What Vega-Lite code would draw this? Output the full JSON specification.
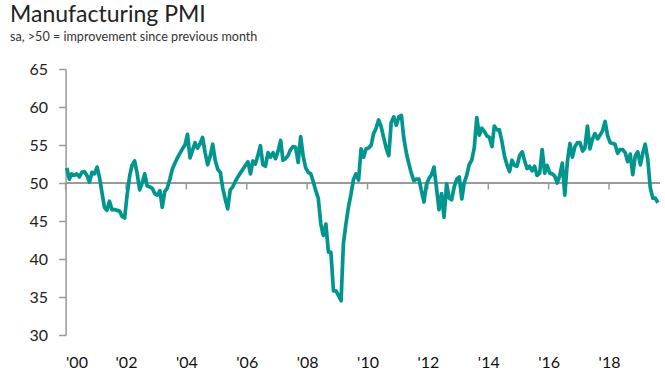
{
  "$schema": "https://vega.github.io/schema/vega-lite/v6.json",
  "width": 594,
  "height": 266,
  "autosize": {"type": "none"},
  "padding": {"left": 65.6, "top": 69, "right": 5.4, "bottom": 53},
  "background": "white",
  "title": {
    "text": "Manufacturing PMI",
    "subtitle": "sa, >50 = improvement since previous month",
    "anchor": "start",
    "frame": "group",
    "dx": -55.6,
    "offset": 17,
    "font": "Lato",
    "fontSize": 23,
    "fontWeight": "normal",
    "color": "#222222",
    "subtitleFont": "Lato",
    "subtitleFontSize": 12.6,
    "subtitleColor": "#333333",
    "subtitlePadding": 4
  },
  "data": {
    "format": {"parse": {"date": "date"}},
    "values": [
      {"date":"2000-01-15","pmi":52.0},{"date":"2000-02-15","pmi":50.5},{"date":"2000-03-15","pmi":51.2},{"date":"2000-04-15","pmi":51.0},{"date":"2000-05-15","pmi":51.2},{"date":"2000-06-15","pmi":50.8},{"date":"2000-07-15","pmi":51.4},{"date":"2000-08-15","pmi":51.5},{"date":"2000-09-15","pmi":51.0},{"date":"2000-10-15","pmi":50.1},{"date":"2000-11-15","pmi":51.4},{"date":"2000-12-15","pmi":51.2},
      {"date":"2001-01-15","pmi":52.1},{"date":"2001-02-15","pmi":50.7},{"date":"2001-03-15","pmi":48.8},{"date":"2001-04-15","pmi":46.8},{"date":"2001-05-15","pmi":46.4},{"date":"2001-06-15","pmi":47.6},{"date":"2001-07-15","pmi":46.5},{"date":"2001-08-15","pmi":46.5},{"date":"2001-09-15","pmi":46.4},{"date":"2001-10-15","pmi":46.3},{"date":"2001-11-15","pmi":45.6},{"date":"2001-12-15","pmi":45.4},
      {"date":"2002-01-15","pmi":48.5},{"date":"2002-02-15","pmi":51.0},{"date":"2002-03-15","pmi":52.3},{"date":"2002-04-15","pmi":52.9},{"date":"2002-05-15","pmi":51.3},{"date":"2002-06-15","pmi":49.1},{"date":"2002-07-15","pmi":50.0},{"date":"2002-08-15","pmi":51.2},{"date":"2002-09-15","pmi":49.6},{"date":"2002-10-15","pmi":49.5},{"date":"2002-11-15","pmi":49.3},{"date":"2002-12-15","pmi":48.6},
      {"date":"2003-01-15","pmi":48.4},{"date":"2003-02-15","pmi":49.0},{"date":"2003-03-15","pmi":46.8},{"date":"2003-04-15","pmi":48.9},{"date":"2003-05-15","pmi":49.3},{"date":"2003-06-15","pmi":50.5},{"date":"2003-07-15","pmi":51.8},{"date":"2003-08-15","pmi":52.6},{"date":"2003-09-15","pmi":53.3},{"date":"2003-10-15","pmi":53.9},{"date":"2003-11-15","pmi":54.5},{"date":"2003-12-15","pmi":55.0},
      {"date":"2004-01-15","pmi":56.4},{"date":"2004-02-15","pmi":53.3},{"date":"2004-03-15","pmi":54.3},{"date":"2004-04-15","pmi":55.3},{"date":"2004-05-15","pmi":54.6},{"date":"2004-06-15","pmi":55.2},{"date":"2004-07-15","pmi":56.0},{"date":"2004-08-15","pmi":54.0},{"date":"2004-09-15","pmi":52.4},{"date":"2004-10-15","pmi":53.5},{"date":"2004-11-15","pmi":55.1},{"date":"2004-12-15","pmi":53.0},
      {"date":"2005-01-15","pmi":51.8},{"date":"2005-02-15","pmi":51.4},{"date":"2005-03-15","pmi":49.4},{"date":"2005-04-15","pmi":47.9},{"date":"2005-05-15","pmi":46.6},{"date":"2005-06-15","pmi":49.1},{"date":"2005-07-15","pmi":49.5},{"date":"2005-08-15","pmi":50.2},{"date":"2005-09-15","pmi":50.8},{"date":"2005-10-15","pmi":51.3},{"date":"2005-11-15","pmi":51.8},{"date":"2005-12-15","pmi":52.3},
      {"date":"2006-01-15","pmi":52.8},{"date":"2006-02-15","pmi":51.2},{"date":"2006-03-15","pmi":52.9},{"date":"2006-04-15","pmi":52.5},{"date":"2006-05-15","pmi":53.6},{"date":"2006-06-15","pmi":54.9},{"date":"2006-07-15","pmi":52.4},{"date":"2006-08-15","pmi":52.2},{"date":"2006-09-15","pmi":54.0},{"date":"2006-10-15","pmi":53.4},{"date":"2006-11-15","pmi":54.0},{"date":"2006-12-15","pmi":53.2},
      {"date":"2007-01-15","pmi":54.2},{"date":"2007-02-15","pmi":55.6},{"date":"2007-03-15","pmi":53.0},{"date":"2007-04-15","pmi":53.2},{"date":"2007-05-15","pmi":53.6},{"date":"2007-06-15","pmi":54.4},{"date":"2007-07-15","pmi":54.8},{"date":"2007-08-15","pmi":54.7},{"date":"2007-09-15","pmi":52.7},{"date":"2007-10-15","pmi":56.1},{"date":"2007-11-15","pmi":53.5},{"date":"2007-12-15","pmi":52.0},
      {"date":"2008-01-15","pmi":51.4},{"date":"2008-02-15","pmi":51.2},{"date":"2008-03-15","pmi":50.2},{"date":"2008-04-15","pmi":49.0},{"date":"2008-05-15","pmi":48.0},{"date":"2008-06-15","pmi":44.6},{"date":"2008-07-15","pmi":43.1},{"date":"2008-08-15","pmi":44.6},{"date":"2008-09-15","pmi":40.9},{"date":"2008-10-15","pmi":40.9},{"date":"2008-11-15","pmi":35.8},{"date":"2008-12-15","pmi":35.8},
      {"date":"2009-01-15","pmi":35.2},{"date":"2009-02-15","pmi":34.5},{"date":"2009-03-15","pmi":42.0},{"date":"2009-04-15","pmi":44.6},{"date":"2009-05-15","pmi":46.8},{"date":"2009-06-15","pmi":48.5},{"date":"2009-07-15","pmi":50.5},{"date":"2009-08-15","pmi":51.2},{"date":"2009-09-15","pmi":50.4},{"date":"2009-10-15","pmi":54.5},{"date":"2009-11-15","pmi":53.4},{"date":"2009-12-15","pmi":54.5},
      {"date":"2010-01-15","pmi":54.6},{"date":"2010-02-15","pmi":55.0},{"date":"2010-03-15","pmi":56.5},{"date":"2010-04-15","pmi":57.2},{"date":"2010-05-15","pmi":58.3},{"date":"2010-06-15","pmi":57.4},{"date":"2010-07-15","pmi":56.0},{"date":"2010-08-15","pmi":54.6},{"date":"2010-09-15","pmi":53.6},{"date":"2010-10-15","pmi":58.0},{"date":"2010-11-15","pmi":58.7},{"date":"2010-12-15","pmi":57.6},
      {"date":"2011-01-15","pmi":58.7},{"date":"2011-02-15","pmi":58.9},{"date":"2011-03-15","pmi":56.0},{"date":"2011-04-15","pmi":54.0},{"date":"2011-05-15","pmi":52.6},{"date":"2011-06-15","pmi":51.3},{"date":"2011-07-15","pmi":50.3},{"date":"2011-08-15","pmi":50.5},{"date":"2011-09-15","pmi":50.5},{"date":"2011-10-15","pmi":49.0},{"date":"2011-11-15","pmi":47.5},{"date":"2011-12-15","pmi":49.8},
      {"date":"2012-01-15","pmi":50.6},{"date":"2012-02-15","pmi":51.1},{"date":"2012-03-15","pmi":52.1},{"date":"2012-04-15","pmi":49.3},{"date":"2012-05-15","pmi":46.5},{"date":"2012-06-15","pmi":48.6},{"date":"2012-07-15","pmi":45.5},{"date":"2012-08-15","pmi":49.9},{"date":"2012-09-15","pmi":48.0},{"date":"2012-10-15","pmi":47.8},{"date":"2012-11-15","pmi":49.5},{"date":"2012-12-15","pmi":50.5},
      {"date":"2013-01-15","pmi":50.8},{"date":"2013-02-15","pmi":47.9},{"date":"2013-03-15","pmi":50.0},{"date":"2013-04-15","pmi":51.0},{"date":"2013-05-15","pmi":52.4},{"date":"2013-06-15","pmi":53.0},{"date":"2013-07-15","pmi":54.6},{"date":"2013-08-15","pmi":58.6},{"date":"2013-09-15","pmi":56.3},{"date":"2013-10-15","pmi":57.2},{"date":"2013-11-15","pmi":56.8},{"date":"2013-12-15","pmi":56.2},
      {"date":"2014-01-15","pmi":56.0},{"date":"2014-02-15","pmi":54.8},{"date":"2014-03-15","pmi":57.5},{"date":"2014-04-15","pmi":57.0},{"date":"2014-05-15","pmi":57.0},{"date":"2014-06-15","pmi":55.5},{"date":"2014-07-15","pmi":53.6},{"date":"2014-08-15","pmi":52.4},{"date":"2014-09-15","pmi":51.5},{"date":"2014-10-15","pmi":53.0},{"date":"2014-11-15","pmi":52.3},{"date":"2014-12-15","pmi":52.2},
      {"date":"2015-01-15","pmi":53.6},{"date":"2015-02-15","pmi":54.1},{"date":"2015-03-15","pmi":53.0},{"date":"2015-04-15","pmi":51.9},{"date":"2015-05-15","pmi":52.2},{"date":"2015-06-15","pmi":51.6},{"date":"2015-07-15","pmi":52.2},{"date":"2015-08-15","pmi":51.0},{"date":"2015-09-15","pmi":51.3},{"date":"2015-10-15","pmi":54.4},{"date":"2015-11-15","pmi":51.3},{"date":"2015-12-15","pmi":52.3},
      {"date":"2016-01-15","pmi":51.3},{"date":"2016-02-15","pmi":51.2},{"date":"2016-03-15","pmi":50.9},{"date":"2016-04-15","pmi":50.0},{"date":"2016-05-15","pmi":51.0},{"date":"2016-06-15","pmi":52.6},{"date":"2016-07-15","pmi":48.4},{"date":"2016-08-15","pmi":52.8},{"date":"2016-09-15","pmi":55.2},{"date":"2016-10-15","pmi":53.4},{"date":"2016-11-15","pmi":54.8},{"date":"2016-12-15","pmi":55.3},
      {"date":"2017-01-15","pmi":55.3},{"date":"2017-02-15","pmi":54.2},{"date":"2017-03-15","pmi":54.6},{"date":"2017-04-15","pmi":57.5},{"date":"2017-05-15","pmi":54.5},{"date":"2017-06-15","pmi":55.8},{"date":"2017-07-15","pmi":56.5},{"date":"2017-08-15","pmi":55.8},{"date":"2017-09-15","pmi":56.3},{"date":"2017-10-15","pmi":56.9},{"date":"2017-11-15","pmi":58.1},{"date":"2017-12-15","pmi":56.2},
      {"date":"2018-01-15","pmi":55.3},{"date":"2018-02-15","pmi":55.2},{"date":"2018-03-15","pmi":55.1},{"date":"2018-04-15","pmi":53.9},{"date":"2018-05-15","pmi":54.4},{"date":"2018-06-15","pmi":54.4},{"date":"2018-07-15","pmi":54.0},{"date":"2018-08-15","pmi":52.8},{"date":"2018-09-15","pmi":53.8},{"date":"2018-10-15","pmi":51.1},{"date":"2018-11-15","pmi":53.6},{"date":"2018-12-15","pmi":54.1},
      {"date":"2019-01-15","pmi":52.4},{"date":"2019-02-15","pmi":54.0},{"date":"2019-03-15","pmi":55.1},{"date":"2019-04-15","pmi":53.1},{"date":"2019-05-15","pmi":49.4},{"date":"2019-06-15","pmi":48.0},{"date":"2019-07-15","pmi":48.0},{"date":"2019-08-15","pmi":47.4}
    ]
  },
  "layer": [
    {
      "mark": {"type": "rule", "color": "#9a9a9a", "strokeWidth": 1.5},
      "encoding": {
        "y": {"datum": 50, "type": "quantitative", "axis": {"values": [30, 35, 40, 45, 50, 55, 60, 65]}}
      }
    },
    {
      "transform": [{"filter": "utcmonth(datum.date) == 0 && utcyear(datum.date) % 2 == 0"}],
      "mark": {"type": "rule", "color": "#9a9a9a", "strokeWidth": 1.5},
      "encoding": {
        "x": {"field": "date", "type": "temporal", "timeUnit": "utcyear", "title": null},
        "y": {"datum": 50, "type": "quantitative", "axis": {"values": [30, 35, 40, 45, 50, 55, 60, 65]}},
        "y2": {"datum": 49.15}
      }
    },
    {
      "mark": {"type": "line", "color": "#00968f", "strokeWidth": 3.7, "strokeJoin": "round"},
      "encoding": {
        "x": {
          "field": "date",
          "type": "temporal",
          "title": null,
          "scale": {
            "type": "utc",
            "domain": [
              {"year": 2000, "month": 1, "date": 1, "utc": true},
              {"year": 2019, "month": 9, "date": 5, "utc": true}
            ]
          }
        },
        "y": {
          "field": "pmi",
          "type": "quantitative",
          "title": null,
          "scale": {"domain": [30, 65], "nice": false, "zero": false},
          "axis": {"values": [30, 35, 40, 45, 50, 55, 60, 65]}
        }
      }
    }
  ],
  "config": {
    "view": {"stroke": null},
    "axisX": {
      "format": "'%y",
      "tickCount": {"interval": "year", "step": 2},
      "domain": false,
      "ticks": false,
      "grid": false,
      "labelFont": "Lato",
      "labelFontSize": 16,
      "labelColor": "#111111",
      "labelPadding": 19
    },
    "axisY": {
      "domain": true,
      "domainColor": "#9a9a9a",
      "domainWidth": 1.5,
      "ticks": true,
      "tickColor": "#9a9a9a",
      "tickSize": 7,
      "tickWidth": 1.5,
      "tickCount": 8,
      "labelOverlap": false,
      "grid": false,
      "labelFont": "Lato",
      "labelFontSize": 16,
      "labelColor": "#222222",
      "labelPadding": 11
    }
  }
}
